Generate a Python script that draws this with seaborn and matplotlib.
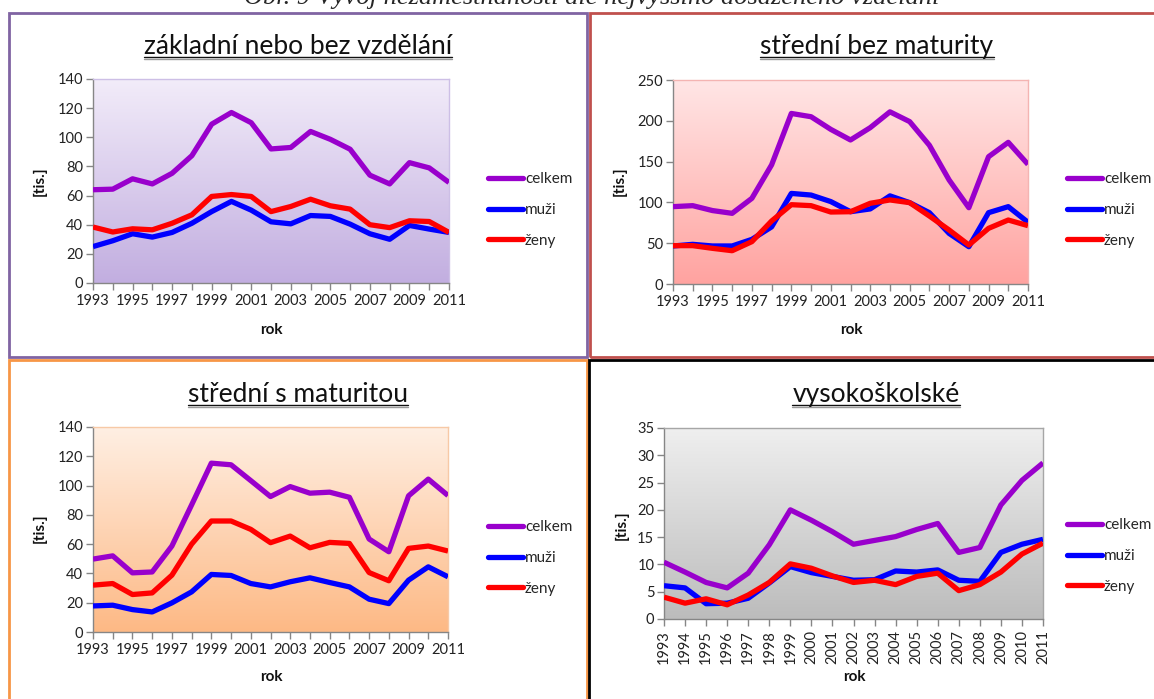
import numpy as np
import pandas as pd
import seaborn as sns
import matplotlib
matplotlib.use("Agg")
import matplotlib.pyplot as plt
from matplotlib.colors import LinearSegmentedColormap
from matplotlib.patches import Rectangle
from matplotlib.lines import Line2D
from matplotlib.ticker import MultipleLocator

# Output
PATH_OUT = "out.png"

# Data (tis. nezaměstnaných)
roky = [1993, 1994, 1995, 1996, 1997, 1998, 1999, 2000, 2001, 2002,
        2003, 2004, 2005, 2006, 2007, 2008, 2009, 2010, 2011]
serie = ["celkem", "muži", "ženy"]

zakladni_celkem = [64, 64.4, 71.5, 68, 75.3, 87.4, 109, 117, 110, 92, 93, 104, 98.6, 91.8, 74, 68, 82.6, 79, 69]
zakladni_muzi = [25, 29, 33.8, 31.5, 34.7, 41, 49, 56, 50, 42, 40.6, 46.3, 45.7, 40.4, 33.8, 30, 39.5, 37, 34.7]
zakladni_zeny = [38.4, 35, 37.2, 36.5, 41, 46.8, 59.4, 60.7, 59.4, 49, 52.5, 57.5, 53, 50.7, 40, 38, 42.7, 42.2, 34.7]

bez_mat_celkem = [94.8, 96, 90, 86.6, 105, 146, 209, 205, 189.5, 176.5, 191.6, 211, 199, 170, 127.5, 93.5, 156, 173.6, 146.6]
bez_mat_muzi = [46.6, 48.6, 46.6, 46.6, 54.7, 70, 111, 109, 101, 88.6, 92, 108, 99.7, 87.4, 62, 45.7, 87.4, 94.8, 75.6]
bez_mat_zeny = [47, 47, 43.7, 40.8, 51.9, 77.2, 97.2, 96, 88.2, 88.6, 98.9, 103, 99.7, 83.3, 66.2, 47.8, 68.2, 78.4, 71.5]

s_mat_celkem = [49.8, 52, 40.4, 41, 58.7, 86.8, 115.3, 114.2, 103.4, 92.5, 99.3, 94.8, 95.5, 92, 63.5, 54.8, 93, 104.4, 93.2]
s_mat_muzi = [17.8, 18.3, 15.3, 13.7, 19.9, 27.4, 39.3, 38.6, 33.1, 30.8, 34.3, 37, 33.8, 30.8, 22.4, 19.4, 35.4, 44.5, 37.7]
s_mat_zeny = [32, 33.1, 25.6, 26.7, 38.8, 60, 75.8, 75.8, 70.1, 61, 65.5, 57.5, 61.2, 60.5, 40.6, 35, 57.1, 58.7, 55.3]

vs_celkem = [10.4, 8.6, 6.7, 5.7, 8.4, 13.6, 20, 18.1, 16, 13.7, 14.4, 15.1, 16.4, 17.5, 12.2, 13.1, 20.9, 25.4, 28.6]
vs_muzi = [6.1, 5.7, 2.8, 2.9, 3.8, 6.6, 9.6, 8.5, 7.8, 7.1, 7.2, 8.8, 8.6, 9, 7.1, 6.9, 12.2, 13.7, 14.6]
vs_zeny = [4, 2.9, 3.7, 2.6, 4.4, 6.7, 10.1, 9.3, 7.9, 6.7, 7.1, 6.3, 7.8, 8.4, 5.2, 6.3, 8.6, 11.9, 13.9]

barvy = {"celkem": "#9900CC", "muži": "#0000FF", "ženy": "#FF0000"}

W, H = 1154, 699


def fx(px):
    return px / W


def fy(py):
    return 1 - py / H


# layout per panel (pixels from top-left)
panely = [
    dict(title="základní nebo bez vzdělání", data=(zakladni_celkem, zakladni_muzi, zakladni_zeny),
         ymax=140, step=20, bg=("#F2ECF9", "#C2AEE0"), edge="#CDBFE6", frame="#8064A2",
         box=(9, 13, 587, 357), ax=(93, 79, 449, 283), tpos=(298, 54), legend=(488, 210),
         ylab=(40, 181), xlab=(271, 330), rot=False),
    dict(title="střední bez maturity", data=(bez_mat_celkem, bez_mat_muzi, bez_mat_zeny),
         ymax=250, step=50, bg=("#FFE6E6", "#FFA3A0"), edge="#F4B4B2", frame="#C0504D",
         box=(590, 13, 1165, 357), ax=(673, 80, 1028, 284), tpos=(877, 54), legend=(1067, 210),
         ylab=(620, 181), xlab=(851, 330), rot=False),
    dict(title="střední s maturitou", data=(s_mat_celkem, s_mat_muzi, s_mat_zeny),
         ymax=140, step=20, bg=("#FFEFE3", "#FDB985"), edge="#F7C9A6", frame="#F79646",
         box=(9, 360, 587, 710), ax=(93, 427, 448, 632), tpos=(298, 402), legend=(488, 558),
         ylab=(40, 528), xlab=(271, 677), rot=False),
    dict(title="vysokoškolské", data=(vs_celkem, vs_muzi, vs_zeny),
         ymax=35, step=5, bg=("#EFEFEF", "#BCBCBC"), edge="#A6A6A6", frame="#000000",
         box=(589, 360, 1165, 710), ax=(664, 428, 1043, 619), tpos=(876, 402), legend=(1067, 556),
         ylab=(622, 525), xlab=(854, 677), rot=True),
]


def main():
    sns.set_theme(style="white")
    plt.rcParams["font.family"] = ["Lato", "DejaVu Sans"]

    fig = plt.figure(figsize=(W / 100, H / 100), dpi=100)
    fig.patch.set_facecolor("white")

    fig.text(fx(592), fy(4), "Obr. 9 Vývoj nezaměstnanosti dle nejvyššího dosaženého vzdělání",
             ha="center", va="baseline", fontsize=19, style="italic",
             family=["Liberation Serif", "DejaVu Serif"])

    titles = []
    for p in panely:
        x0, y0, x1, y1 = p["box"]
        fig.add_artist(Rectangle((fx(x0), fy(y1)), (x1 - x0) / W, (y1 - y0) / H, fill=False,
                                 edgecolor=p["frame"], lw=2, transform=fig.transFigure))

        l, t, r, b = p["ax"]
        ax = fig.add_axes([fx(l), fy(b), (r - l) / W, (b - t) / H])

        cmap = LinearSegmentedColormap.from_list("bg", list(p["bg"]))
        grad = np.linspace(0, 1, 256).reshape(-1, 1)
        ax.imshow(grad, cmap=cmap, extent=(0, 1, 0, 1), transform=ax.transAxes,
                  aspect="auto", zorder=0)

        celkem, muzi, zeny = p["data"]
        df = pd.DataFrame({
            "rok": roky * 3,
            "tis": celkem + muzi + zeny,
            "řada": [s for s in serie for _ in roky],
        })
        sns.lineplot(data=df, x="rok", y="tis", hue="řada", hue_order=serie, palette=barvy,
                     lw=3.8, ax=ax, legend=False, solid_joinstyle="round", solid_capstyle="butt",
                     zorder=3)

        ax.set_xlim(1993, 2011)
        ax.set_ylim(0, p["ymax"])
        ax.yaxis.set_major_locator(MultipleLocator(p["step"]))
        if p["rot"]:
            ax.set_xticks(roky)
            ax.set_xticklabels([str(r_) for r_ in roky], rotation=90)
        else:
            ax.set_xticks(roky[::2])
            ax.set_xticks(roky[1::2], minor=True)
        ax.tick_params(axis="both", which="both", direction="out", length=5, width=1,
                       color="#868686", labelsize=10.5, labelcolor="#222222",
                       left=True, bottom=True)
        ax.tick_params(axis="y", pad=2)
        ax.tick_params(axis="x", pad=3)
        ax.set_xlabel("")
        ax.set_ylabel("")
        for side in ("left", "bottom"):
            ax.spines[side].set_color("#868686")
            ax.spines[side].set_linewidth(1)
        for side in ("top", "right"):
            ax.spines[side].set_color(p["edge"])
            ax.spines[side].set_linewidth(1)

        fig.text(fx(p["ylab"][0]), fy(p["ylab"][1]), "[tis.]", rotation=90, ha="center",
                 va="center", fontsize=11, weight="bold", color="#111111")
        fig.text(fx(p["xlab"][0]), fy(p["xlab"][1]), "rok", ha="center", va="center",
                 fontsize=11, weight="bold", color="#111111")

        handles = [Line2D([0], [0], color=barvy[s], lw=3.8, solid_capstyle="round") for s in serie]
        ax.legend(handles, serie, loc="center left", bbox_to_anchor=(fx(p["legend"][0]), fy(p["legend"][1])),
                  bbox_transform=fig.transFigure, frameon=False, fontsize=11, handlelength=2.3,
                  handletextpad=0.12, labelspacing=1.1, borderpad=0, borderaxespad=0)

        tt = fig.text(fx(p["tpos"][0]), fy(p["tpos"][1]), p["title"], ha="center", va="baseline",
                      fontsize=19, color="#111111")
        titles.append((tt, p["tpos"][1]))

    # underline the panel titles
    fig.canvas.draw()
    renderer = fig.canvas.get_renderer()
    for tt, base in titles:
        bb = tt.get_window_extent(renderer)
        for off, c in ((3, "#111111"), (5, "#9a9a9a")):
            fig.add_artist(Line2D([bb.x0 / W, bb.x1 / W], [fy(base + off)] * 2, color=c, lw=1,
                                  transform=fig.transFigure))

    fig.savefig(PATH_OUT, dpi=100)


if __name__ == "__main__":
    main()
